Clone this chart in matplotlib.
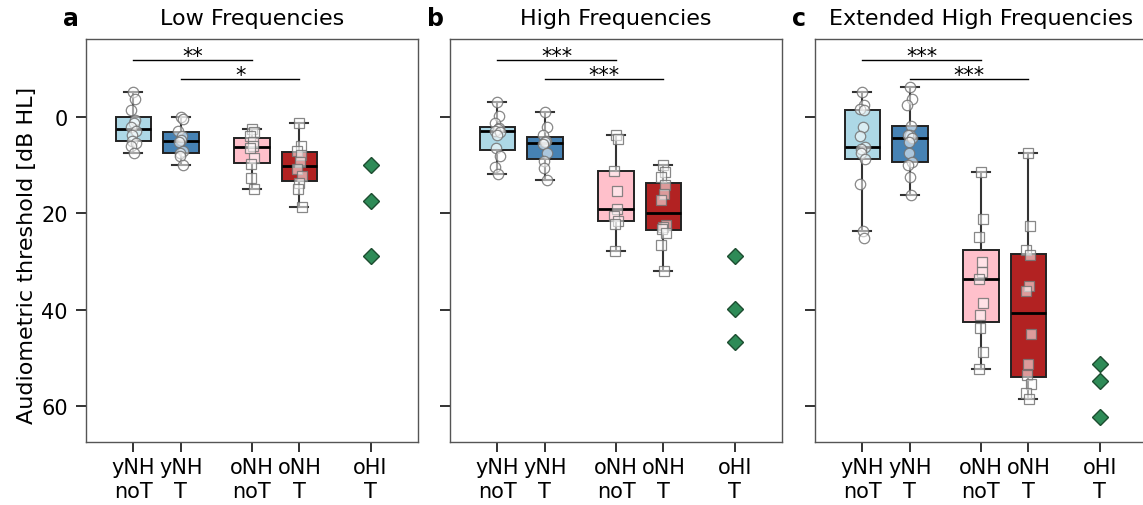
import numpy as np
import matplotlib.pyplot as plt

groups = ['yNH\nnoT', 'yNH\nT', 'oNH\nnoT', 'oNH\nT', 'oHI\nT']
titles = ['Low Frequencies', 'High Frequencies', 'Extended High Frequencies']
letters = ['a', 'b', 'c']
# significance stars: (yNH noT vs oNH noT, yNH T vs oNH T)
stars = [('**', '*'), ('***', '***'), ('***', '***')]

# thresholds in dB HL per listener group
low_ynh_not = [-5.2, -3.7, -1.4, 0.5, 1.2, 2.0, 2.8, 3.7, 4.9, 5.3, 6.0, 7.4]
low_ynh_t = [0.0, 0.4, 2.8, 4.0, 4.8, 5.2, 7.0, 7.5, 8.0, 9.9]
low_onh_not = [2.4, 3.0, 4.0, 5.2, 5.9, 6.5, 8.4, 9.75, 12.6, 14.9]
low_onh_t = [1.25, 6.0, 7.0, 7.8, 9.4, 10.8, 12.2, 13.6, 15.0, 18.7]
low_ohi_t = [9.9, 17.5, 28.8]

high_ynh_not = [-3.1, -0.2, 1.2, 2.2, 2.5, 2.8, 3.0, 3.8, 6.5, 8.1, 10.3, 11.9]
high_ynh_t = [-1.0, 2.0, 3.7, 5.0, 5.2, 5.6, 7.4, 9.1, 10.5, 13.0]
high_onh_not = [3.8, 4.5, 11.1, 15.3, 19.1, 20.6, 21.5, 22.2, 27.9]
high_onh_t = [9.9, 11.4, 12.5, 14.1, 15.9, 17.3, 22.5, 22.9, 23.2, 24.0, 26.5, 32.0]
high_ohi_t = [28.9, 39.9, 46.7]

ext_ynh_not = [-5.2, -2.5, -1.8, -1.4, 2.1, 3.9, 6.2, 6.6, 7.4, 8.7, 13.8, 23.6, 25.0]
ext_ynh_t = [-6.2, -3.8, -2.5, 1.9, 3.6, 3.8, 4.3, 5.2, 7.4, 9.4, 10.0, 12.4, 16.2]
ext_onh_not = [11.3, 21.2, 24.9, 30.1, 32.2, 33.6, 38.6, 41.1, 43.9, 48.7, 52.3]
ext_onh_t = [7.4, 22.6, 27.5, 28.7, 35.1, 36.2, 45.0, 51.3, 53.5, 55.5, 57.3, 58.5]
ext_ohi_t = [51.2, 54.8, 62.4]

bands = [
    [low_ynh_not, low_ynh_t, low_onh_not, low_onh_t, low_ohi_t],
    [high_ynh_not, high_ynh_t, high_onh_not, high_onh_t, high_ohi_t],
    [ext_ynh_not, ext_ynh_t, ext_onh_not, ext_onh_t, ext_ohi_t],
]

pos = [0, 1, 2.5, 3.5, 5]
box_colors = ['lightblue', 'steelblue', 'pink', 'firebrick']
markers = ['o', 'o', 's', 's']

fig = plt.figure(figsize=(11.43, 5.06), dpi=100)
lefts = [0.0752, 0.3937, 0.7130]

for k in range(3):
    ax = fig.add_axes([lefts[k], 0.1245, 0.2905, 0.7964])
    data = bands[k]

    bp = ax.boxplot(data[:4], positions=pos[:4], widths=0.75, patch_artist=True,
                    showfliers=False, capwidths=0.38,
                    medianprops=dict(color='black', lw=2),
                    boxprops=dict(edgecolor='#222222', lw=1.4),
                    whiskerprops=dict(color='#333333', lw=1.5),
                    capprops=dict(color='#333333', lw=1.5))
    for patch, c in zip(bp['boxes'], box_colors):
        patch.set_facecolor(c)

    # individual listeners on top of the boxes
    for i in range(4):
        vals = np.array(data[i])
        jit = 0.05 * np.sin(np.arange(len(vals)) * 2.3)
        ax.plot(pos[i] + jit, vals, ls='none', marker=markers[i], ms=7.5,
                mfc=(1, 1, 1, 0.55), mec=(0.45, 0.45, 0.45, 0.85), mew=0.9,
                zorder=4)
    ax.plot([pos[4]] * len(data[4]), data[4], ls='none', marker='D', ms=8.5,
            mfc='seagreen', mec='#1d4d30', mew=1, zorder=4)

    # significance brackets
    s1, s2 = stars[k]
    ax.plot([pos[0], pos[2]], [-11.9, -11.9], color='black', lw=1)
    ax.plot([pos[1], pos[3]], [-8.0, -8.0], color='black', lw=1)
    ax.text((pos[0] + pos[2]) / 2, -11.4, s1, ha='center', va='baseline', fontsize=15)
    ax.text((pos[1] + pos[3]) / 2, -7.5, s2, ha='center', va='baseline', fontsize=15)

    ax.set_xlim(-1, 6)
    ax.set_ylim(67.5, -16.25)
    ax.set_xticks(pos)
    ax.set_xticklabels(groups, fontsize=15, linespacing=1.25)
    ax.set_yticks([0, 20, 40, 60])
    if k == 0:
        ax.set_yticklabels(['0', '20', '40', '60'], fontsize=15)
        ax.set_ylabel('Audiometric threshold [dB HL]', fontsize=16)
        ax.yaxis.set_label_coords(-0.148, 0.466)
    else:
        ax.set_yticklabels([])
    ax.tick_params(axis='both', length=7, width=1.3, color='#222222')
    ax.tick_params(axis='y', pad=6)
    ax.tick_params(axis='x', pad=4)
    for sp in ax.spines.values():
        sp.set_color('#555555')
        sp.set_linewidth(1)

    ax.set_title(titles[k], fontsize=16, pad=11)
    ax.text(-0.068, 1.035, letters[k], transform=ax.transAxes, fontsize=17,
            fontweight='bold', ha='left', va='baseline')

fig.savefig('out.png', dpi=100)
